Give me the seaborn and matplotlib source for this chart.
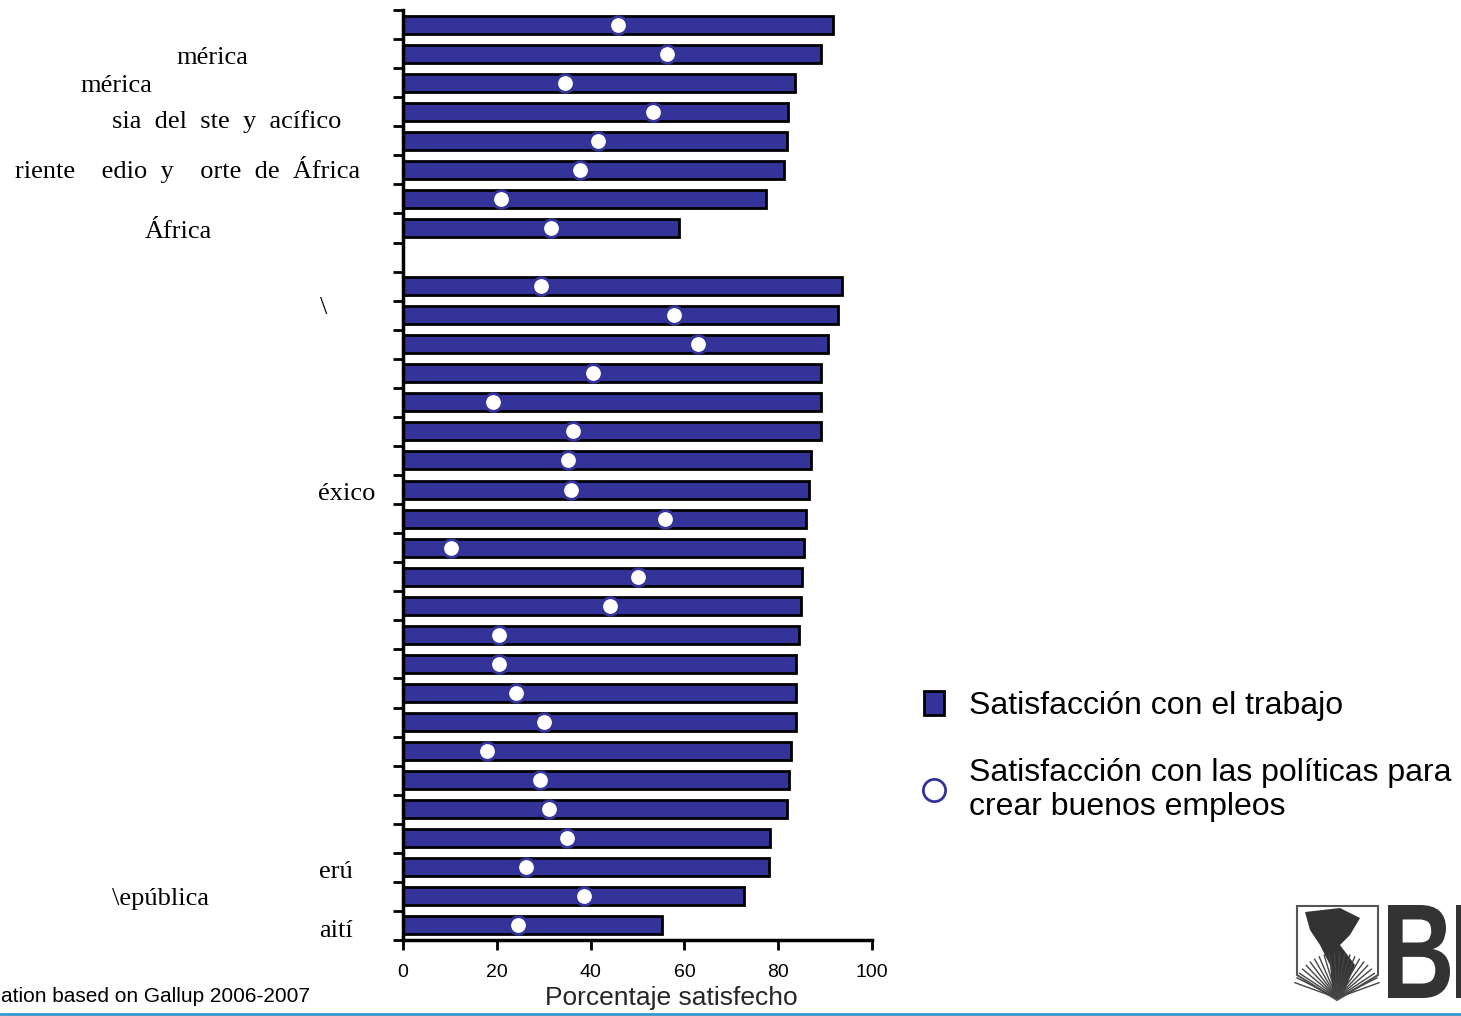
import numpy as np
import pandas as pd
import matplotlib
matplotlib.use("Agg")
import matplotlib.pyplot as plt
import matplotlib.transforms as mtransforms
import seaborn as sns
from matplotlib.lines import Line2D
from matplotlib.patches import Patch, Polygon, PathPatch, Rectangle
from matplotlib.textpath import TextPath
from matplotlib.font_manager import FontProperties

# --- data ---
region_ids = ["r1", "r2", "r3", "r4", "r5", "r6", "r7", "r8"]
country_ids = ["c%d" % i for i in range(1, 24)]

job_region = [91.7, 89.1, 83.6, 82.1, 81.9, 81.2, 77.4, 58.8]
policy_region = [45.8, 56.3, 34.5, 53.3, 41.6, 37.7, 20.9, 31.6]

job_country = [93.6, 92.8, 90.6, 89.1, 89.1, 89.1, 87.0, 86.6, 85.9, 85.5,
               85.1, 84.9, 84.4, 83.8, 83.8, 83.8, 82.7, 82.3, 81.9, 78.3,
               78.0, 72.7, 55.2]
policy_country = [29.4, 57.8, 62.9, 40.5, 19.2, 36.2, 35.2, 35.8, 55.9, 10.2,
                  50.1, 44.1, 20.5, 20.5, 24.1, 30.1, 17.9, 29.2, 31.1, 35.0,
                  26.2, 38.6, 24.5]

# label fragments as they appear (glyphs lost in the original export)
label_text = ["mérica", "mérica", "sia  del  ste  y  acífico",
              "riente    edio  y    orte  de  África", "África",
              "\\", "éxico", "erú", "\\epública", "aití"]
label_row = [1.15, 2.1, 3.35, 5.0, 7.15, 9.75, 16.15, 29.15, 30.1, 31.2]
label_left_px = [176, 80, 112, 15, 145, 320, 318, 319, 112, 319]

x_ticks = [0, 20, 40, 60, 80, 100]
legend_labels = ["Satisfacción con el trabajo",
                 "Satisfacción con las políticas para\ncrear buenos empleos"]
source_note = "ation based on Gallup 2006-2007"

BAR_BLUE = "#333399"
W, H = 1461, 1016

order = region_ids + ["gap"] + country_ids
df = pd.DataFrame({
    "id": region_ids + country_ids,
    "job": job_region + job_country,
    "policy": policy_region + policy_country,
})

sns.set_style("white")
plt.rcParams["font.family"] = ["Liberation Sans", "DejaVu Sans"]
plt.rcParams["text.color"] = "black"
plt.rcParams["xtick.color"] = "black"
plt.rcParams["ytick.color"] = "black"

fig = plt.figure(figsize=(W / 100, H / 100), dpi=100)
ax = fig.add_axes([403 / W, 76 / H, 469 / W, 930 / H])

sns.barplot(data=df, x="job", y="id", order=order, orient="h",
            color=BAR_BLUE, saturation=1, width=0.62,
            edgecolor="black", linewidth=2, ax=ax)
sns.scatterplot(data=df, x="policy", y="id", ax=ax, s=160,
                color="white", edgecolor=BAR_BLUE, linewidth=2, zorder=5)

ax.set_xlim(0, 100)
ax.set_ylim(len(order) - 0.5, -0.5)
ax.set_xticks(x_ticks)
ax.set_xticklabels([str(t) for t in x_ticks], fontsize=14)
ax.set_yticks(np.arange(-0.5, len(order)))
ax.set_yticklabels([])
ax.tick_params(axis="both", direction="out", length=7, width=2,
               color="black", left=True, bottom=True)
ax.tick_params(axis="x", pad=10)
for side in ["top", "right"]:
    ax.spines[side].set_visible(False)
for side in ["left", "bottom"]:
    ax.spines[side].set_linewidth(2.5)
    ax.spines[side].set_color("black")
ax.set_ylabel("")
ax.set_xlabel("Porcentaje satisfecho", fontsize=19, labelpad=0)
ax.xaxis.set_label_coords((671 - 403) / 469, -0.049)

# category labels on the left (serif, as in the original)
trans = mtransforms.blended_transform_factory(fig.transFigure, ax.transData)
for txt, row, xpx in zip(label_text, label_row, label_left_px):
    ax.text(xpx / W, row, txt, transform=trans, ha="left", va="center",
            fontsize=19, family="Liberation Serif", clip_on=False)

# legend
handles = [
    Patch(facecolor=BAR_BLUE, edgecolor="black", linewidth=2),
    Line2D([], [], marker="o", linestyle="none", markerfacecolor="white",
           markeredgecolor=BAR_BLUE, markersize=16, markeredgewidth=2),
]
fig.legend(handles, legend_labels, loc="upper left",
           bbox_to_anchor=(924 / W, 1 - 691 / H), frameon=False,
           fontsize=23, handlelength=0.62, handleheight=0.75,
           handletextpad=0.8, labelspacing=1.15, borderpad=0, borderaxespad=0)

# source note
fig.text(310 / W, 1 - 997 / H, source_note, ha="right", va="center", fontsize=15)

# bottom rule
fig.add_artist(Line2D([0, 1], [1 - 1014 / H, 1 - 1014 / H],
                      transform=fig.transFigure, color="#3399cc", lw=2))

# logo (rough sketch)
logo = fig.add_axes([1290 / W, 0, 171 / W, 115 / H])
logo.set_xlim(1290, 1461)
logo.set_ylim(1016, 901)
logo.axis("off")
shield = Polygon([(1297, 906), (1378, 906), (1378, 975), (1337, 1000),
                  (1297, 975)], closed=True, facecolor="white",
                 edgecolor="#555555", lw=1.5)
logo.add_patch(shield)
for ang in np.linspace(200, 340, 22):
    a = np.radians(ang)
    logo.plot([1337, 1337 + 45 * np.cos(a)], [998, 998 + 45 * np.sin(a)],
              color="#444444", lw=1)
logo.add_patch(Polygon([(1305, 912), (1340, 908), (1360, 918), (1350, 935),
                        (1340, 945), (1355, 965), (1345, 990), (1333, 996),
                        (1330, 965), (1320, 945), (1310, 930)],
                       closed=True, facecolor="#333333", edgecolor="none"))
tp = TextPath((0, 0), "B", size=1,
              prop=FontProperties(family="Liberation Sans", weight="bold"))
bb = tp.get_extents()
sx = (1450 - 1388) / bb.width
sy = (998 - 905) / bb.height
tr = mtransforms.Affine2D().translate(-bb.x0, -bb.y0).scale(sx, -sy).translate(1388, 998)
logo.add_patch(PathPatch(tr.transform_path(tp), facecolor="#333333",
                         edgecolor="none"))
logo.add_patch(Rectangle((1456, 905), 20, 93, facecolor="#333333",
                         edgecolor="none"))

fig.savefig("out.png", dpi=100)
